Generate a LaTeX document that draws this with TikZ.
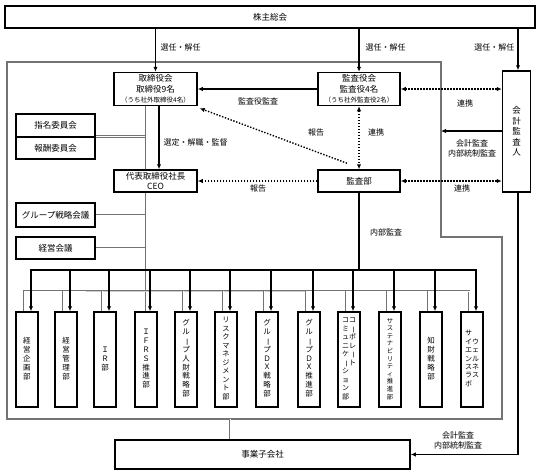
\documentclass[tikz,border=0pt]{standalone}
\usepackage{fontspec}
\setmainfont{Noto Sans CJK JP}
\usetikzlibrary{arrows.meta,calc}
\newcommand{\cho}{\rotatebox[origin=c]{-90}{ー}}
\newcommand{\tate}[1]{\begin{tabular}[t]{@{}c@{}}#1\end{tabular}}
\newcommand{\tatec}[1]{\begin{tabular}[c]{@{}c@{}}#1\end{tabular}}

\begin{document}
\begin{tikzpicture}
[x=1pt,y=-1pt,>={Latex[length=5pt,width=4.5pt]},
box/.style={draw,line width=1.5pt,fill=white,inner sep=0pt,align=center,
	font=\fontsize{8.5}{10.5}\selectfont},
dept/.style={box,minimum width=22pt,minimum height=95pt,
	font=\fontsize{7.5}{8.8}\selectfont},
lbl/.style={inner sep=0.5pt,align=center,font=\fontsize{8}{10}\selectfont},
arr/.style={->,line width=1.3pt},
dots/.style={<->,line width=1.4pt,dash pattern=on 1.4pt off 1.6pt},
dotsone/.style={->,line width=1.4pt,dash pattern=on 1.4pt off 1.6pt},
gline/.style={draw=black!55,double=white,double distance=1pt,line width=0.9pt},
frame/.style={draw=black!55,line width=1.2pt}]
\useasboundingbox (0,0) rectangle (540,474);
%% company frame
\draw[frame] (7,62) -- (441,62) -- (441,237) -- (502,237) -- (502,419) -- (7,419) -- cycle;
%% boxes
\node[box,minimum width=530pt,minimum height=22pt] (gm) at (270,17) {株主総会};
\node[box,minimum width=83pt,minimum height=33pt] (board) at (155.5,89)
{取締役会\\取締役9名\\{\fontsize{6.5}{8}\selectfont （うち社外取締役4名）}};
\node[box,minimum width=82pt,minimum height=33pt] (kansayaku) at (359,89)
{監査役会\\監査役4名\\{\fontsize{6.5}{8}\selectfont （うち社外監査役2名）}};
\node[box,minimum width=28pt,minimum height=121pt] (auditor) at (516.5,131.5) {会\\計\\監\\査\\人};
\node[box,minimum width=79pt,minimum height=23pt] (shimei) at (55.5,125.5) {指名委員会};
\node[box,minimum width=79pt,minimum height=22pt] (hoshu) at (55.5,148) {報酬委員会};
\node[box,minimum width=83pt,minimum height=22pt] (ceo) at (155.5,181) {代表取締役社長\\CEO};
\node[box,minimum width=82pt,minimum height=22pt] (kansabu) at (359,181) {監査部};
\node[box,minimum width=79pt,minimum height=24pt] (gsk) at (55.5,215) {グループ戦略会議};
\node[box,minimum width=79pt,minimum height=22pt] (keiei) at (55.5,248) {経営会議};
\node[box,minimum width=295pt,minimum height=29pt] (sub) at (262.5,454.5) {事業子会社};
%% departments
\foreach \i/\x/\t in {
	1/27/{\tate{経\\営\\企\\画\\部}},
	2/66/{\tate{経\\営\\管\\理\\部}},
	3/105/{\tate{Ｉ\\Ｒ\\部}},
	4/146/{\tate{Ｉ\\Ｆ\\Ｒ\\Ｓ\\推\\進\\部}},
	5/186/{\tate{グ\\ル\\\cho\\プ\\人\\財\\戦\\略\\部}},
	6/226/{\fontsize{7.2}{8.5}\selectfont\tate{リ\\ス\\ク\\マ\\ネ\\ジ\\メ\\ン\\ト\\部}},
	7/267/{\tate{グ\\ル\\\cho\\プ\\Ｄ\\Ｘ\\戦\\略\\部}},
	8/309/{\tate{グ\\ル\\\cho\\プ\\Ｄ\\Ｘ\\推\\進\\部}},
	9/349/{\fontsize{7}{8.5}\selectfont\tate{コ\\ミ\\ュ\\ニ\\ケ\\\cho\\シ\\ョ\\ン\\部}\tate{コ\\\cho\\ポ\\レ\\\cho\\ト}},
	10/390/{\fontsize{6.3}{7.6}\selectfont\tate{サ\\ス\\テ\\ナ\\ビ\\リ\\テ\\ィ\\推\\進\\部}},
	11/431/{\tate{知\\財\\戦\\略\\部}},
	12/472/{\fontsize{7}{8.4}\selectfont\tatec{サ\\イ\\エ\\ン\\ス\\ラ\\ボ}\tatec{ウ\\ェ\\ル\\ネ\\ス}}}
{
	\node[dept] (d\i) at (\x,359.5) {\t};
}
%% labels
\node[lbl,anchor=west] (sel1) at (160,47) {選任・解任};
\node[lbl,anchor=west] (sel2) at (365,47) {選任・解任};
\node[lbl,anchor=east] (sel3) at (515,47) {選任・解任};
\node[lbl] (kk) at (258,101) {監査役監査};
\node[lbl] (rk1) at (465,103) {連携};
\node[lbl] (hk1) at (316,132) {報告};
\node[lbl] (rk2) at (376,132) {連携};
\node[lbl,anchor=west] (sk) at (163,142) {選定・解職・監督};
\node[lbl] (hk2) at (258,188) {報告};
\node[lbl] (rk3) at (462,188) {連携};
\node[lbl] (ak1) at (472,148) {会計監査\\内部統制監査};
\node[lbl] (nk) at (386,232) {内部監査};
\node[lbl] (ak2) at (458,440) {会計監査\\内部統制監査};
%% gray lines (organisation)
\coordinate (sptop) at (146,106);
\coordinate (gbus) at (146,291);
\coordinate (bb) at (230,419);
\draw[gline] (hoshu.north east) -- (hoshu.north east -| sptop);
\draw[gline] (gsk.east) -- (gsk.east -| sptop);
\draw[gline] (keiei.east) -- (keiei.east -| sptop);
\draw[gline] (sptop) -- (sptop |- ceo.north);
\draw[gline] (sptop |- ceo.south) -- (sptop |- d4.north);
\draw[gline] ([xshift=-3pt]d1.north) |- (gbus) -| ([xshift=-3pt]d12.north);
\foreach \i in {2,3,5,6,7,8,9,10,11}
{
	\draw[gline] ([xshift=-3pt]d\i.north |- gbus) -- ([xshift=-3pt]d\i.north);
}
\draw[gline] (bb) -- (bb |- sub.north);
%% black lines (appointment, audit)
\coordinate (bbus) at (359,270);
\coordinate (bdr) at (441,131);
\draw[arr] (board.north |- gm.south) -- (board.north);
\draw[arr] (kansayaku.north |- gm.south) -- (kansayaku.north);
\draw[arr] ([xshift=1.5pt]auditor.north |- gm.south) -- ([xshift=1.5pt]auditor.north);
\draw[arr] (kansayaku.west) -- (board.east);
\draw[arr] ([xshift=3.5pt]board.south) -- ([xshift=3.5pt]ceo.north);
\draw[arr] (auditor.west |- bdr) -- (bdr);
\draw[arr] ([xshift=1.5pt]auditor.south) |- (sub.east);
\draw[line width=1.3pt] (kansabu.south) -- (kansabu.south |- bbus);
\draw[arr,<->] ([xshift=4pt]d1.north) |- (bbus) -| ([xshift=4pt]d12.north);
\foreach \i in {2,...,11}
{
	\draw[arr] ([xshift=4pt]d\i.north |- bbus) -- ([xshift=4pt]d\i.north);
}
%% dotted (cooperation, report)
\draw[dots] (kansayaku.east) -- (kansayaku.east -| auditor.west);
\draw[dots] (kansayaku.south) -- (kansabu.north);
\draw[dots] (kansabu.east) -- (kansabu.east -| auditor.west);
\draw[dotsone] (kansabu.west) -- (ceo.east);
\draw[dotsone] ([shift={(-12pt,6pt)}]kansabu.north) -- ([shift={(2pt,-2pt)}]board.south east);
\end{tikzpicture}
\end{document}
